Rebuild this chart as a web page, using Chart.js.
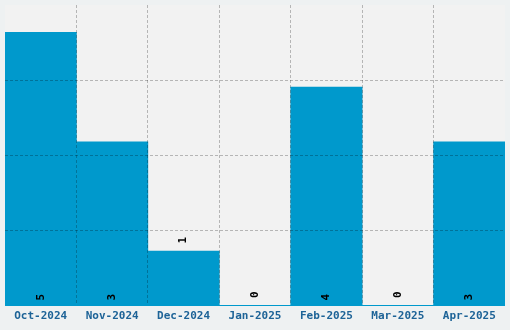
<!DOCTYPE html>
<html>
<head>
<meta charset="utf-8">
<script src="https://cdn.jsdelivr.net/npm/chart.js@4"></script>
<style>
  html, body { margin: 0; padding: 0; background: #eef1f2; }
  #wrap { width: 510px; height: 330px; }
</style>
</head>
<body>
<div id="wrap"><canvas id="chart"></canvas></div>
<script>
// months and counts
var months = ['Oct-2024', 'Nov-2024', 'Dec-2024', 'Jan-2025', 'Feb-2025', 'Mar-2025', 'Apr-2025'];
var counts = [5, 3, 1, 0, 4, 0, 3];
var yMax = 5.5;
var yStep = 1.375;

var barColor = '#0099cc';
var gridColor = 'rgba(0,0,0,0.25)';

// grey plot area behind the bars, blue base line on top
var plotBg = {
    id: 'plotBg',
    beforeDraw: function (chart) {
        var a = chart.chartArea;
        var ctx = chart.ctx;
        ctx.save();
        ctx.fillStyle = '#f2f2f2';
        ctx.fillRect(a.left, a.top, a.right - a.left, a.bottom - a.top);
        ctx.restore();
    },
    afterDraw: function (chart) {
        var a = chart.chartArea;
        var ctx = chart.ctx;
        var y0 = Math.round(chart.scales.y.getPixelForValue(0)) - 0.5;
        ctx.save();
        ctx.strokeStyle = barColor;
        ctx.lineWidth = 1;
        ctx.beginPath();
        ctx.moveTo(a.left, y0);
        ctx.lineTo(a.right, y0);
        ctx.stroke();
        ctx.restore();
    }
};

// rotated value labels, at the bar foot or just above short bars
var valueLabels = {
    id: 'valueLabels',
    afterDraw: function (chart) {
        var ctx = chart.ctx;
        var meta = chart.getDatasetMeta(0);
        ctx.save();
        ctx.font = 'bold 11px "DejaVu Sans Mono", monospace';
        ctx.fillStyle = '#000';
        ctx.textAlign = 'center';
        ctx.textBaseline = 'middle';
        meta.data.forEach(function (bar, i) {
            var h = bar.base - bar.y;
            var y = h > 60 ? bar.base - 8 : bar.y - 11;
            ctx.save();
            ctx.translate(bar.x, y);
            ctx.rotate(-Math.PI / 2);
            ctx.fillText(String(counts[i]), 0, 0);
            ctx.restore();
        });
        ctx.restore();
    }
};

new Chart(document.getElementById('chart'), {
    type: 'bar',
    data: {
        labels: months,
        datasets: [{
            data: counts,
            backgroundColor: barColor,
            borderWidth: 0,
            barPercentage: 1,
            categoryPercentage: 1
        }]
    },
    plugins: [plotBg, valueLabels],
    options: {
        responsive: true,
        maintainAspectRatio: false,
        animation: false,
        layout: { padding: { left: 5, right: 5, top: 5, bottom: 3 } },
        plugins: {
            legend: { display: false },
            tooltip: { enabled: false }
        },
        scales: {
            x: {
                grid: {
                    z: 1,
                    drawTicks: false,
                    color: function (c) {
                        return (c.type !== 'tick' || c.index === 0) ? 'rgba(0,0,0,0)' : gridColor;
                    },
                    lineWidth: 1
                },
                border: { display: false, dash: [3, 2] },
                ticks: {
                    padding: 4,
                    color: '#1d6397',
                    font: { family: '"DejaVu Sans Mono", monospace', size: 11, weight: 'bold' },
                    maxRotation: 0
                }
            },
            y: {
                display: true,
                min: 0,
                max: yMax,
                ticks: { display: false, stepSize: yStep },
                grid: {
                    z: 1,
                    drawTicks: false,
                    color: function (c) {
                        return (c.type !== 'tick' || c.tick.value === 0 || c.tick.value === yMax) ? 'rgba(0,0,0,0)' : gridColor;
                    }
                },
                border: { display: false, dash: [3, 2] }
            }
        }
    }
});
</script>
</body>
</html>
